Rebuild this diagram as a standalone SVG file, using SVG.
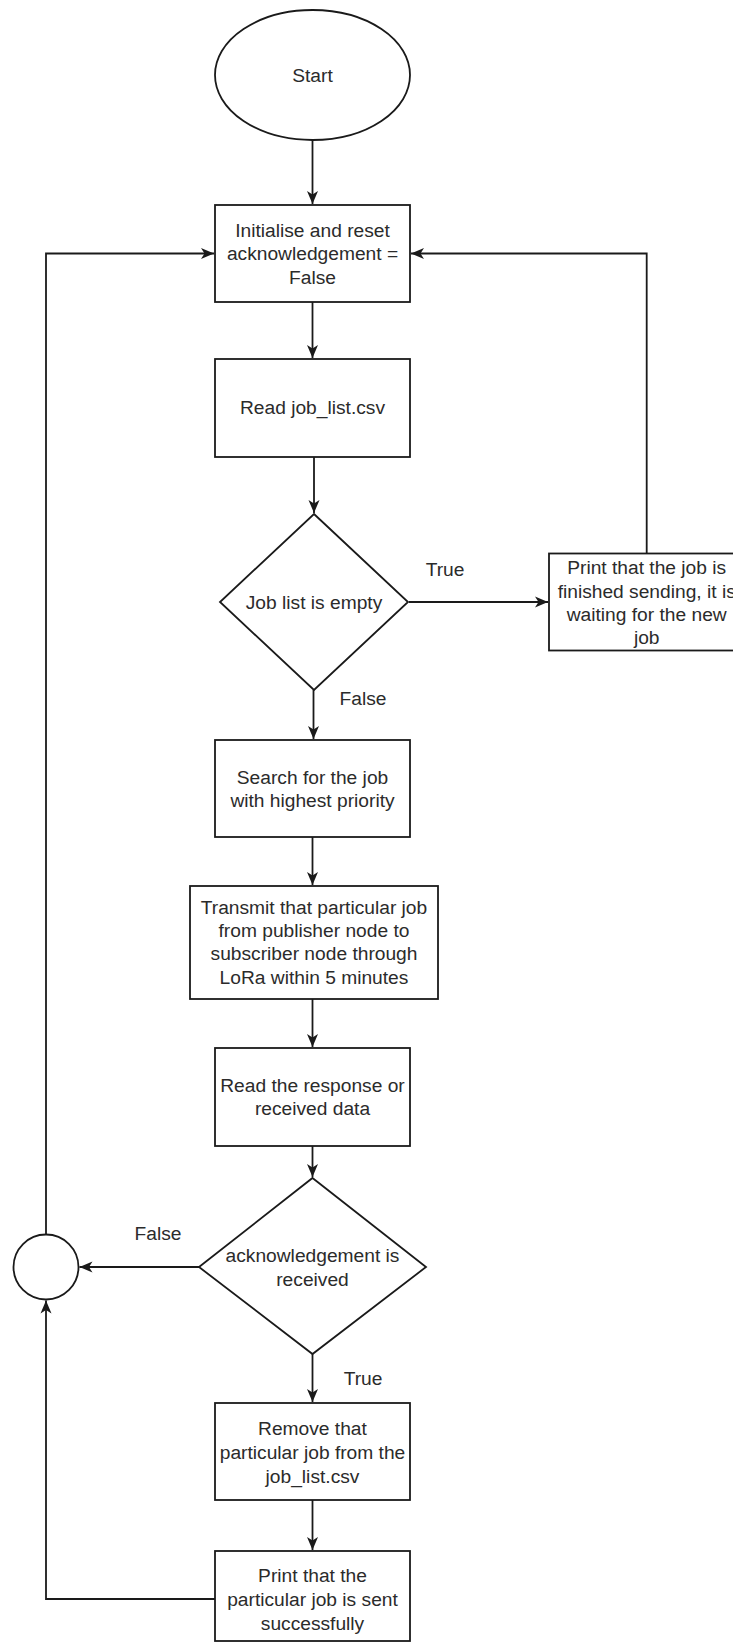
<svg xmlns="http://www.w3.org/2000/svg" width="733" height="1643" viewBox="0 0 733 1643">
<style>
.shape{fill:#fff;stroke:#1a1a1a;stroke-width:1.8}
.t{font-family:"Liberation Sans",Arial,sans-serif;font-size:19.2px;fill:#2b2b2b;text-anchor:middle}
.edge{fill:none;stroke:#1a1a1a;stroke-width:1.8}
</style>
<defs>
<marker id="arr" markerUnits="userSpaceOnUse" markerWidth="14" markerHeight="14" viewBox="0 0 14 14" refX="13" refY="7" orient="auto">
<path d="M0,1.5 L13,7 L0,12.5 L3.5,7 z" fill="#1a1a1a"/>
</marker>
</defs>
<rect width="733" height="1643" fill="#fff"/>
<g id="edges">
<path class="edge" d="M312.5,140 V204" marker-end="url(#arr)"/>
<path class="edge" d="M312.5,302 V358" marker-end="url(#arr)"/>
<path class="edge" d="M314,457 V513" marker-end="url(#arr)"/>
<path class="edge" d="M409,602 H548" marker-end="url(#arr)"/>
<path class="edge" d="M313.5,690 V739" marker-end="url(#arr)"/>
<path class="edge" d="M312.5,837 V885" marker-end="url(#arr)"/>
<path class="edge" d="M312.5,999 V1047" marker-end="url(#arr)"/>
<path class="edge" d="M312.5,1146 V1177" marker-end="url(#arr)"/>
<path class="edge" d="M199,1267 H79.5" marker-end="url(#arr)"/>
<path class="edge" d="M312.5,1354 V1402" marker-end="url(#arr)"/>
<path class="edge" d="M312.5,1500 V1550" marker-end="url(#arr)"/>
<path class="edge" d="M215,1599 H46 V1300.5" marker-end="url(#arr)"/>
<path class="edge" d="M46,1234.5 V253.5 H214" marker-end="url(#arr)"/>
<path class="edge" d="M646.7,553.5 V253.5 H411" marker-end="url(#arr)"/>
<text class="t" x="445" y="576">True</text>
<text class="t" x="363" y="705">False</text>
<text class="t" x="158" y="1240">False</text>
<text class="t" x="363" y="1385">True</text>
</g>
<g id="start">
<ellipse class="shape" cx="312.5" cy="75" rx="97.5" ry="65"/>
<text class="t" x="312.5" y="82">Start</text>
</g>
<g id="init">
<rect class="shape" x="215" y="205" width="195" height="97"/>
<text class="t" x="312.5" y="237">Initialise and reset</text>
<text class="t" x="312.5" y="260">acknowledgement =</text>
<text class="t" x="312.5" y="284">False</text>
</g>
<g id="read-list">
<rect class="shape" x="215" y="359" width="195" height="98"/>
<text class="t" x="312.5" y="414">Read job_list.csv</text>
</g>
<g id="empty-check">
<polygon class="shape" points="314,514 408,602 314,690 220,602"/>
<text class="t" x="314" y="609">Job list is empty</text>
</g>
<g id="print-finished">
<rect class="shape" x="549" y="553.5" width="196" height="97"/>
<text class="t" x="646.7" y="574">Print that the job is</text>
<text class="t" x="646.7" y="597.5">finished sending, it is</text>
<text class="t" x="646.7" y="620.5">waiting for the new</text>
<text class="t" x="646.7" y="644">job</text>
</g>
<g id="search">
<rect class="shape" x="215" y="740" width="195" height="97"/>
<text class="t" x="312.5" y="784">Search for the job</text>
<text class="t" x="312.5" y="807">with highest priority</text>
</g>
<g id="transmit">
<rect class="shape" x="190" y="886" width="248" height="113"/>
<text class="t" x="314" y="914">Transmit that particular job</text>
<text class="t" x="314" y="937">from publisher node to</text>
<text class="t" x="314" y="960">subscriber node through</text>
<text class="t" x="314" y="984">LoRa within 5 minutes</text>
</g>
<g id="read-response">
<rect class="shape" x="215" y="1048" width="195" height="98"/>
<text class="t" x="312.5" y="1092">Read the response or</text>
<text class="t" x="312.5" y="1115">received data</text>
</g>
<g id="ack-check">
<polygon class="shape" points="312.5,1178 426,1267 312.5,1354 199,1267"/>
<text class="t" x="312.5" y="1262">acknowledgement is</text>
<text class="t" x="312.5" y="1286">received</text>
</g>
<g id="junction">
<circle class="shape" cx="46" cy="1267" r="32.5"/>
</g>
<g id="remove">
<rect class="shape" x="215" y="1403" width="195" height="97"/>
<text class="t" x="312.5" y="1435">Remove that</text>
<text class="t" x="312.5" y="1459">particular job from the</text>
<text class="t" x="312.5" y="1483">job_list.csv</text>
</g>
<g id="print-sent">
<rect class="shape" x="215" y="1551" width="195" height="90"/>
<text class="t" x="312.5" y="1582">Print that the</text>
<text class="t" x="312.5" y="1606">particular job is sent</text>
<text class="t" x="312.5" y="1630">successfully</text>
</g>
</svg>
